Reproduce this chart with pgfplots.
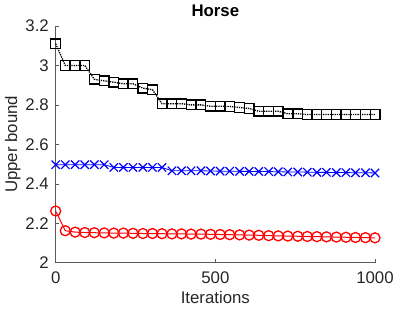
\documentclass[border=0pt]{standalone}
\usepackage{pgfplots}
\pgfplotsset{compat=1.18}
\usepackage{fontspec}
\setmainfont{Liberation Sans}
\definecolor{axgray}{rgb}{0.15,0.15,0.15}
\begin{document}
\begin{tikzpicture}
\useasboundingbox (-55.7bp,-48.3bp) rectangle (359.3bp,262.7bp);
\begin{axis}[
  at={(0,0)}, anchor=south west,
  scale only axis, width=319.3bp, height=236.7bp,
  xmin=0, xmax=1000, ymin=2, ymax=3.2,
  xtick={0,500,1000}, ytick={2,2.2,2.4,2.6,2.8,3,3.2},
  axis lines*=left,
  axis line style={draw=black!65, line width=0.5bp},
  tick align=inside, major tick length=3.5bp,
  tick style={draw=black!65, line width=0.5bp},
  clip=false,
  font=\fontsize{16.8bp}{20bp}\selectfont,
  /pgf/number format/assume math mode=true,
  /pgf/number format/1000 sep={},
  ticklabel style={text=axgray},
  xticklabel style={yshift=-5.7bp},
  yticklabel style={xshift=-3.4bp},
  xlabel={Iterations},
  xlabel style={at={(0.5,-0.1703)}, anchor=base, text=axgray},
  ylabel={Upper bound},
  ylabel style={at={(-0.1212,0.5)}, anchor=base, text=axgray},
]
\addplot[black, densely dotted, line width=1.3bp, mark=square, mark size=4.85bp, mark options={solid, line width=1.3bp}] coordinates {
(0,3.11) (30,3.00) (61,3.00) (91,3.00) (121,2.93) (152,2.922) (182,2.915) (212,2.907) (242,2.907) (273,2.885) (303,2.877)
(333,2.806) (364,2.806) (394,2.806) (424,2.800) (455,2.800) (485,2.793) (515,2.793) (545,2.792) (576,2.787) (606,2.782)
(636,2.768) (667,2.768) (697,2.768) (727,2.755) (758,2.755) (788,2.751) (818,2.751) (848,2.751) (879,2.751) (909,2.751)
(939,2.751) (970,2.751) (1000,2.751)
};
\addplot[blue, line width=0.8bp, mark=x, mark size=5.9bp, mark options={solid, line width=1.2bp}] coordinates {
(0,2.497) (30,2.497) (61,2.497) (91,2.497) (121,2.497) (152,2.497) (182,2.483) (212,2.483) (242,2.483) (273,2.483) (303,2.483)
(333,2.483) (364,2.466) (394,2.466) (424,2.466) (455,2.466) (485,2.465) (515,2.464) (545,2.464) (576,2.463) (606,2.463)
(636,2.462) (667,2.462) (697,2.461) (727,2.460) (758,2.460) (788,2.459) (818,2.458) (848,2.458) (879,2.457) (909,2.457)
(939,2.456) (970,2.456) (1000,2.455)
};
\addplot[red, line width=1bp, mark=o, mark size=5bp, mark options={solid, line width=1.3bp}] coordinates {
(0,2.262) (30,2.162) (61,2.155) (91,2.153) (121,2.152) (152,2.151) (182,2.150) (212,2.150) (242,2.149) (273,2.148) (303,2.148)
(333,2.147) (364,2.146) (394,2.146) (424,2.145) (455,2.145) (485,2.144) (515,2.143) (545,2.142) (576,2.141) (606,2.140)
(636,2.139) (667,2.137) (697,2.136) (727,2.135) (758,2.134) (788,2.133) (818,2.132) (848,2.131) (879,2.130) (909,2.129)
(939,2.128) (970,2.127) (1000,2.126)
};
\node[anchor=base, font=\fontsize{16.8bp}{20bp}\selectfont\bfseries, inner sep=0pt] at ([yshift=9.3bp]rel axis cs:0.5,1) {Horse};
\end{axis}
\end{tikzpicture}
\end{document}
